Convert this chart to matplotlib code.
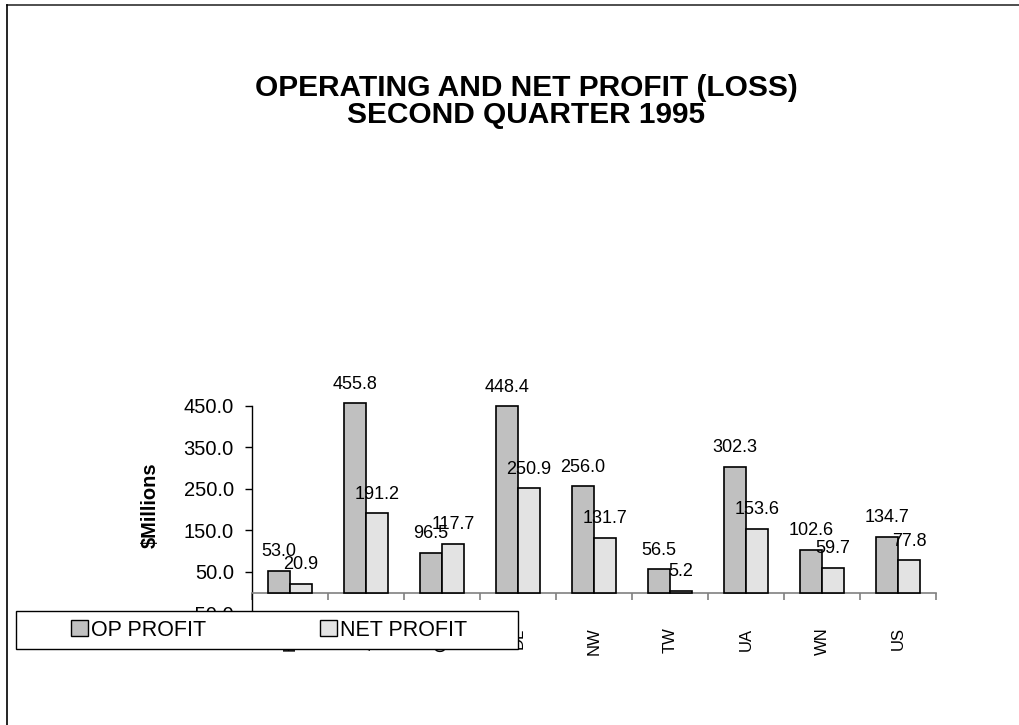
import numpy as np
import matplotlib
matplotlib.use("Agg")
import matplotlib.pyplot as plt
from matplotlib.patches import Rectangle, Patch
from matplotlib.lines import Line2D

plt.rcParams['font.family'] = ['Liberation Sans', 'DejaVu Sans']

carriers = ["HP", "AA", "CO", "DL", "NW", "TW", "UA", "WN", "US"]
op_profit = [53.0, 455.8, 96.5, 448.4, 256.0, 56.5, 302.3, 102.6, 134.7]
net_profit = [20.9, 191.2, 117.7, 250.9, 131.7, 5.2, 153.6, 59.7, 77.8]
yticks = [-50, 50, 150, 250, 350, 450]

W, H = 1020, 725
fig = plt.figure(figsize=(W / 100, H / 100), dpi=100)
ax = fig.add_axes([252 / W, (H - 613.5) / H, 684 / W, 208 / H])

x = np.arange(len(carriers))
bw = 0.29
b1 = ax.bar(x - bw / 2, op_profit, bw, color="#c0c0c0", edgecolor="black",
            linewidth=1.2, clip_on=False, zorder=3)
b2 = ax.bar(x + bw / 2, net_profit, bw, color="#e3e3e3", edgecolor="black",
            linewidth=1.2, clip_on=False, zorder=3)

for bars, vals in ((b1, op_profit), (b2, net_profit)):
    for rect, v in zip(bars, vals):
        ax.annotate("%.1f" % v, (rect.get_x() + rect.get_width() / 2, v),
                    xytext=(0, 10.5), textcoords="offset points",
                    ha="center", va="baseline", fontsize=13, zorder=4,
                    annotation_clip=False)

ax.set_xlim(-0.5, len(carriers) - 0.5)
ax.set_ylim(-50, 450)
ax.set_yticks(yticks)
ax.set_yticklabels(["%.1f" % t for t in yticks], fontsize=14.5)
ax.tick_params(axis="y", direction="out", length=5, width=1, pad=8)

# category axis crosses at zero
ax.spines["top"].set_visible(False)
ax.spines["right"].set_visible(False)
ax.spines["bottom"].set_position(("data", 0))
ax.spines["bottom"].set_color("#808080")
ax.spines["bottom"].set_linewidth(1.2)
ax.spines["left"].set_linewidth(1.0)
ax.set_xticks(x)
ax.set_xticklabels(carriers, rotation=90, fontsize=12)
ax.set_xticks(np.arange(len(carriers) + 1) - 0.5, minor=True)
ax.tick_params(axis="x", which="major", length=0, pad=25)
ax.tick_params(axis="x", which="minor", direction="out", length=5,
               width=1.2, color="#808080")

fig.text(150 / W, 1 - 505 / H, "$Millions", rotation=90, ha="center",
         va="center", fontsize=14.5, fontweight="bold")

fig.text(526 / W, 1 - 88 / H, "OPERATING AND NET PROFIT (LOSS)",
         ha="center", va="center", fontsize=21.5, fontweight="bold")
fig.text(526 / W, 1 - 115 / H, "SECOND QUARTER 1995",
         ha="center", va="center", fontsize=21.5, fontweight="bold")

# legend box drawn over the plot area
fig.add_artist(Rectangle((16 / W, (H - 649) / H), 502 / W, 38 / H,
                         transform=fig.transFigure, facecolor="white",
                         edgecolor="black", linewidth=1.0, zorder=5))
handles = [Patch(facecolor="#c0c0c0", edgecolor="black", linewidth=1.0),
           Patch(facecolor="#e3e3e3", edgecolor="black", linewidth=1.0)]
leg = fig.legend(handles, ["OP PROFIT", "NET PROFIT"], ncol=2,
                 loc="center", bbox_to_anchor=(269 / W, 1 - 630 / H),
                 frameon=False, fontsize=15.5, handlelength=0.79,
                 handleheight=0.74, handletextpad=0.15, columnspacing=5.26,
                 borderpad=0)
leg.set_zorder(6)

# page border (top and left edges)
fig.add_artist(Line2D([7 / W, 1.0], [1 - 4.5 / H, 1 - 4.5 / H],
                      transform=fig.transFigure, color="#303030", lw=1.2))
fig.add_artist(Line2D([7 / W, 7 / W], [0, 1 - 4.5 / H],
                      transform=fig.transFigure, color="black", lw=1.2))

fig.savefig("out.png", dpi=100)
